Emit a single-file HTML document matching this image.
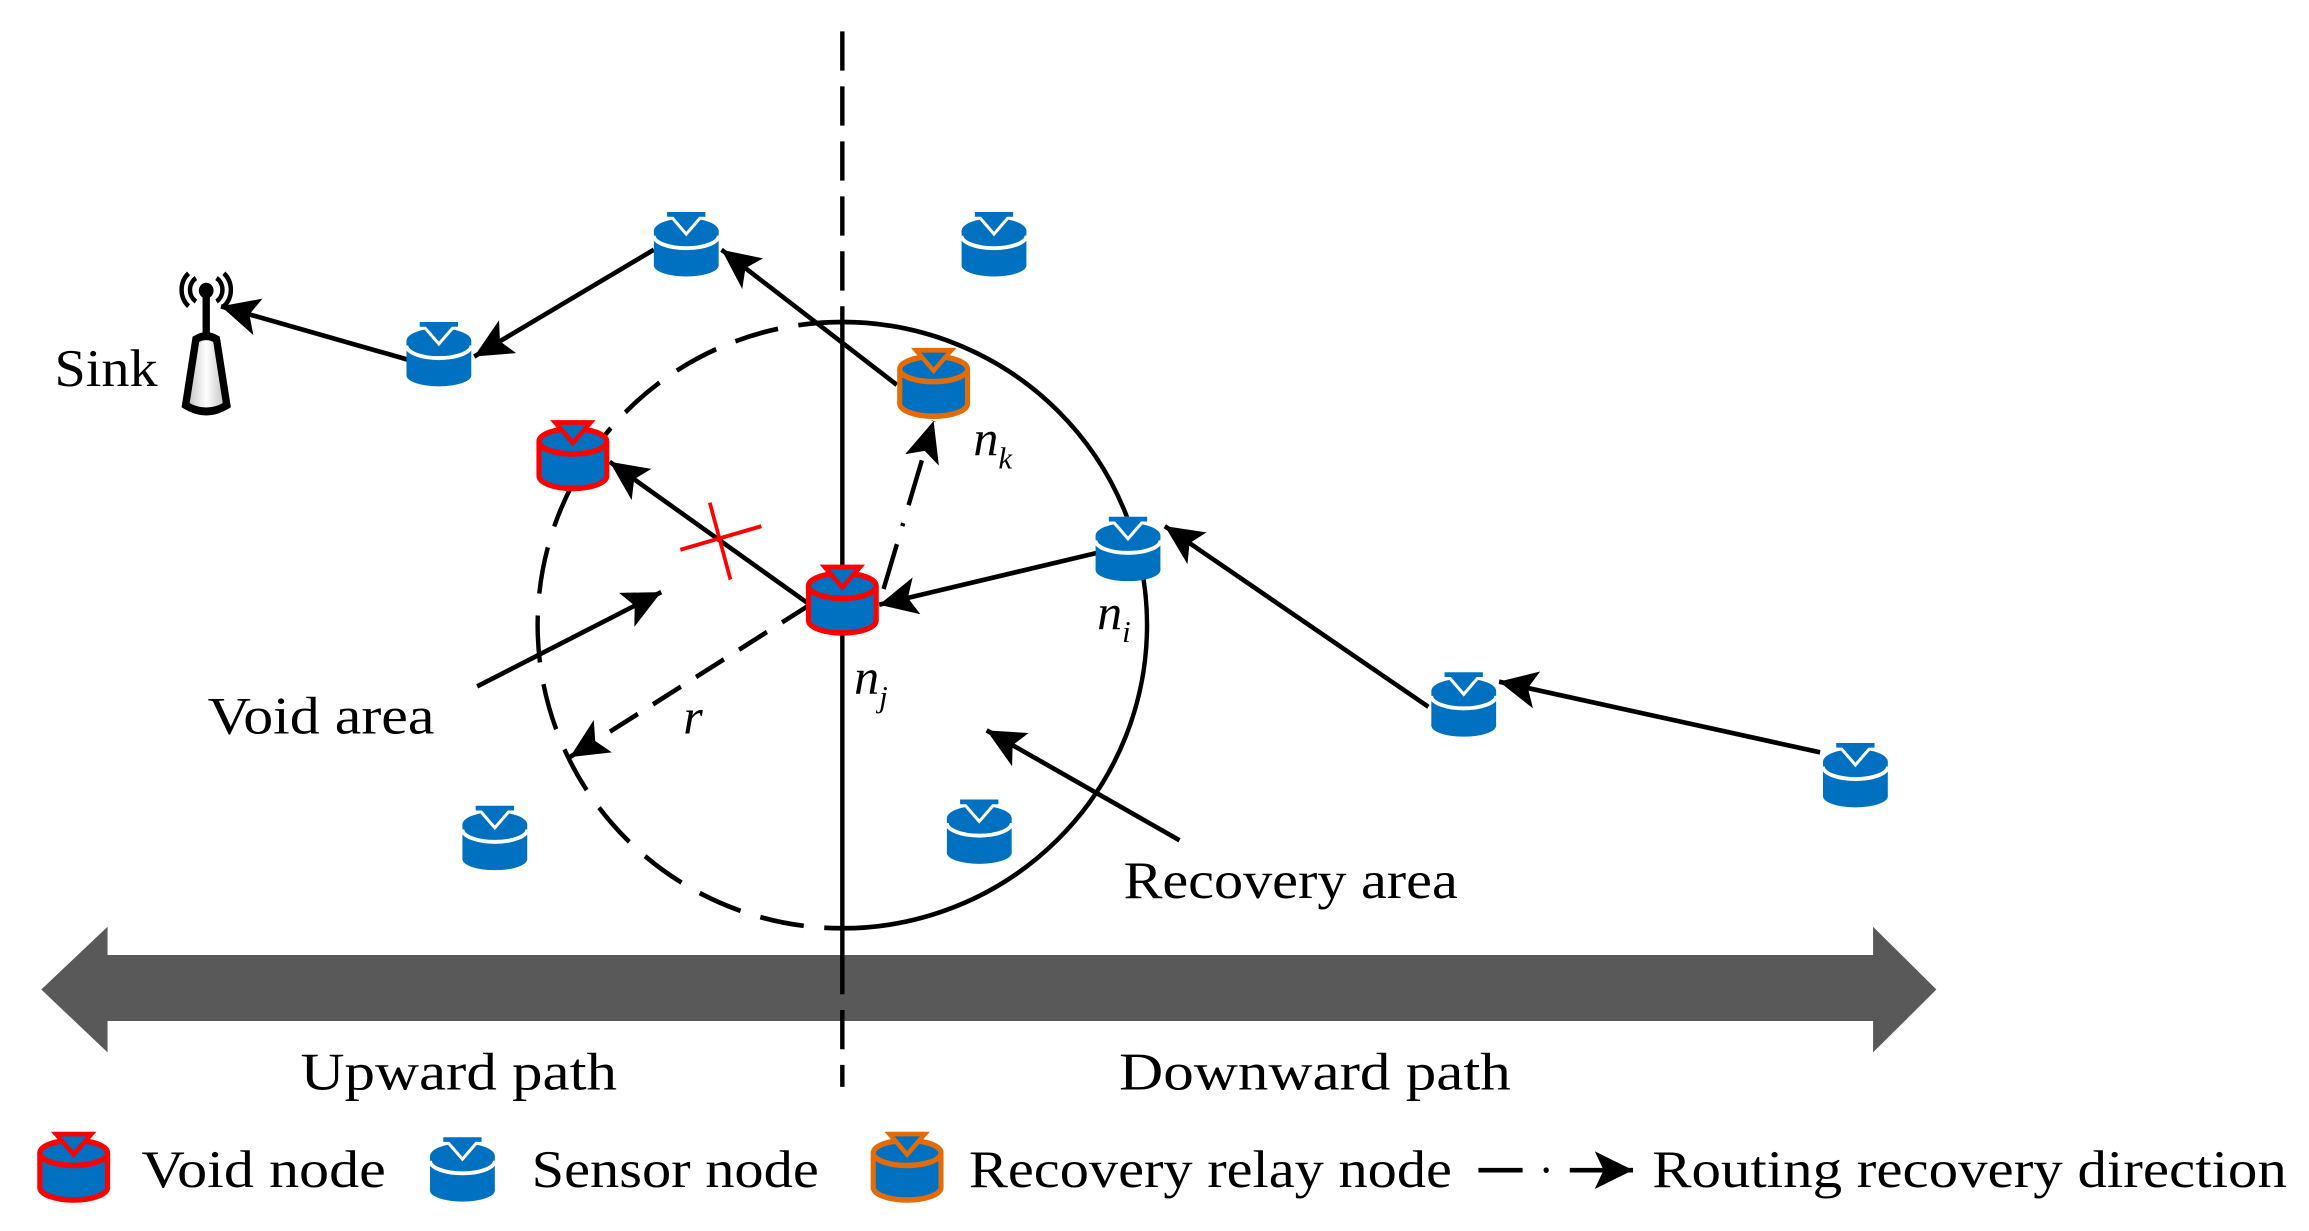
<!DOCTYPE html>
<html><head><meta charset="utf-8"><style>html,body{margin:0;padding:0;background:#fff}svg{display:block}</style></head><body>
<svg width="2309" height="1231" viewBox="0 0 1568 836" xmlns="http://www.w3.org/2000/svg" font-family="'Liberation Serif',serif">
<defs>
<marker id="ah" markerUnits="userSpaceOnUse" markerWidth="30" markerHeight="26" refX="26" refY="12" orient="auto"><path d="M0,0 L26,12 L0,24 L6,12 Z" fill="#000"/></marker>
<linearGradient id="gg" x1="0" x2="1"><stop offset="0" stop-color="#bbb"/><stop offset="0.5" stop-color="#fff"/><stop offset="1" stop-color="#bbb"/></linearGradient>
<g id="sn">
<ellipse cx="0" cy="33" rx="22" ry="7" fill="#0070c0"/>
<rect x="-22" y="11" width="44" height="22" fill="#0070c0"/>
<ellipse cx="0" cy="11" rx="22" ry="8" fill="#0070c0"/>
<path d="M-22,14 A22,8 0 0 0 22,14" fill="none" stroke="#fff" stroke-width="2.5"/>
<path d="M-12,0 L12,0 L0,13 Z" fill="#0070c0" stroke="#fff" stroke-width="2"/>
<path d="M-13,-1 L13,-1 L13,2 L-13,2 Z" fill="#0070c0"/>
</g>
<g id="vn">
<ellipse cx="0" cy="34" rx="23" ry="8" fill="#0070c0" stroke="currentColor" stroke-width="3.5"/>
<rect x="-23" y="12" width="46" height="22" fill="#0070c0" stroke="none"/>
<line x1="-23" y1="12" x2="-23" y2="34" stroke="currentColor" stroke-width="3.5"/>
<line x1="23" y1="12" x2="23" y2="34" stroke="currentColor" stroke-width="3.5"/>
<ellipse cx="0" cy="12" rx="23" ry="8" fill="#0070c0" stroke="currentColor" stroke-width="3.5"/>
<path d="M-12,0 L12,0 L0,13 Z" fill="#0070c0" stroke="currentColor" stroke-width="3"/>
</g>
</defs>

<g transform="scale(1,1.0667)">
<path d="M28,630 L73,590 L73,608 L1272,608 L1272,590 L1315,630 L1272,670 L1272,650 L73,650 L73,670 Z" fill="#595959"/>

<path d="M572,205 A207,193 0 0 1 572,591" fill="none" stroke="#000" stroke-width="3"/>
<path d="M572,205 A207,193 0 0 0 572,591" fill="none" stroke="#000" stroke-width="3" stroke-dasharray="30,14"/>

<line x1="572" y1="20" x2="572" y2="205" stroke="#000" stroke-width="3" stroke-dasharray="25,10"/>
<line x1="572" y1="205" x2="572" y2="608" stroke="#000" stroke-width="3"/>
<line x1="572" y1="608" x2="572" y2="692" stroke="#000" stroke-width="3" stroke-dasharray="25,10"/>

<g stroke="#000" stroke-width="3" fill="none" marker-end="url(#ah)">
<line x1="277" y1="229" x2="150" y2="195"/>
<line x1="444" y1="159" x2="322" y2="227"/>
<line x1="609" y1="245" x2="490" y2="159"/>
<line x1="550" y1="385" x2="414" y2="294"/>
<line x1="745" y1="352" x2="597" y2="385"/>
<line x1="970" y1="450" x2="791" y2="335"/>
<line x1="1236" y1="479" x2="1018" y2="434"/>
<line x1="324" y1="437" x2="449" y2="377"/>
<line x1="801" y1="535" x2="670" y2="465"/>
<line x1="550" y1="385" x2="387" y2="482" stroke-dasharray="22,12"/>
<line x1="600" y1="375" x2="634" y2="268" stroke-dasharray="30,12,2,12"/>
</g>

<line x1="462" y1="350" x2="517" y2="335" stroke="#f00" stroke-width="2.5"/>
<line x1="482" y1="320" x2="496" y2="369" stroke="#f00" stroke-width="2.5"/>

<g stroke="#000" fill="none" stroke-width="3">
<path d="M133,177 A9,9 0 0 0 133,192"/><path d="M147,177 A9,9 0 0 1 147,192"/>
<path d="M128,174 A14,14 0 0 0 128,195"/><path d="M152,174 A14,14 0 0 1 152,195"/>
</g>
<circle cx="140" cy="185" r="5" fill="#000"/>
<line x1="140" y1="185" x2="140" y2="216" stroke="#000" stroke-width="5"/>
<path d="M133,216 Q140,212 147,216 L154,258 Q140,266 126,258 Z" fill="url(#gg)" stroke="#000" stroke-width="5"/>

<use href="#sn" x="466" y="136"/>
<use href="#sn" x="675" y="136"/>
<use href="#sn" x="298" y="206"/>
<use href="#sn" x="766" y="330"/>
<use href="#sn" x="994" y="429"/>
<use href="#sn" x="1260" y="474"/>
<use href="#sn" x="336" y="514"/>
<use href="#sn" x="665" y="510"/>
<use href="#vn" x="389" y="269" color="#ff0000"/>
<use href="#vn" x="572" y="361" color="#ff0000"/>
<use href="#vn" x="634" y="223" color="#e36c09"/>
<use href="#vn" x="50" y="722" color="#ff0000"/>
<use href="#sn" x="314" y="725"/>
<use href="#vn" x="616" y="722" color="#e36c09"/>

<line x1="1004" y1="745" x2="1034" y2="745" stroke="#000" stroke-width="3"/>
<circle cx="1050" cy="745" r="1.8" fill="#000"/>
<line x1="1066" y1="745" x2="1109" y2="745" stroke="#000" stroke-width="3" marker-end="url(#ah)"/>
</g>

<g font-size="36" fill="#000">
<text x="37" y="262" textLength="70" lengthAdjust="spacingAndGlyphs">Sink</text>
<text x="141" y="498" textLength="154" lengthAdjust="spacingAndGlyphs">Void area</text>
<text x="763" y="610" textLength="227" lengthAdjust="spacingAndGlyphs">Recovery area</text>
<text x="204" y="740" textLength="215" lengthAdjust="spacingAndGlyphs">Upward path</text>
<text x="760" y="740" textLength="266" lengthAdjust="spacingAndGlyphs">Downward path</text>
<text x="96" y="806" textLength="166" lengthAdjust="spacingAndGlyphs">Void node</text>
<text x="361" y="806" textLength="195" lengthAdjust="spacingAndGlyphs">Sensor node</text>
<text x="658" y="806" textLength="328" lengthAdjust="spacingAndGlyphs">Recovery relay node</text>
<text x="1122" y="806" textLength="431" lengthAdjust="spacingAndGlyphs">Routing recovery direction</text>
</g>
<g font-style="italic" fill="#000">
<text x="661" y="309" font-size="34">n<tspan font-size="21" dy="9">k</tspan></text>
<text x="580" y="471" font-size="34">n<tspan font-size="21" dy="9">j</tspan></text>
<text x="745" y="427" font-size="34">n<tspan font-size="21" dy="9">i</tspan></text>
<text x="464" y="498" font-size="34">r</text>
</g>
</svg>
</body></html>
